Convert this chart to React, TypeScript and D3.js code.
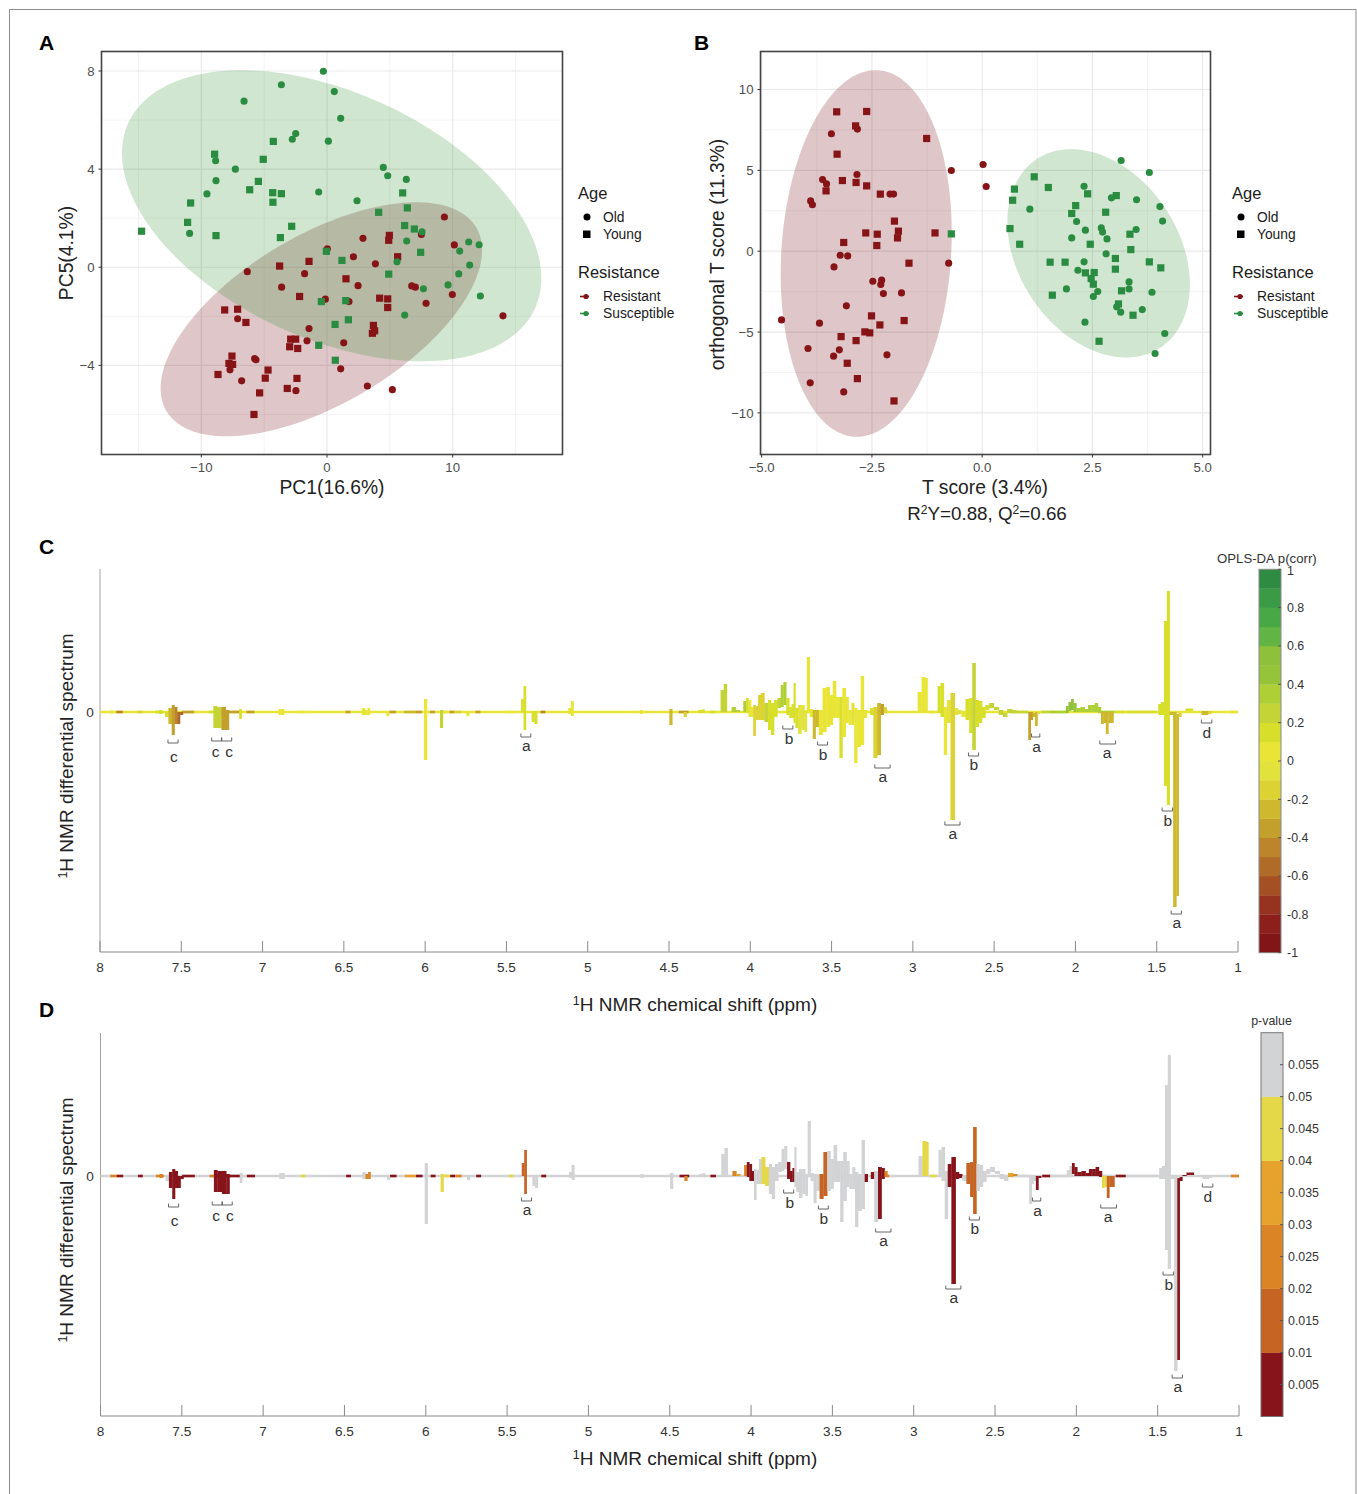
import React from "react";
import * as d3 from "d3";

type Pt = [number, number];
// ---------- Panel A (PC1 / PC5 scores) ----------
const pcaSusceptibleOld: Pt[] = [[-0.29,7.99],[-3.63,7.44],[0.58,7.16],[-6.6,6.77],[1.09,6.07],[-2.49,5.45],[-2.76,5.22],[0.11,5.14],[-8.86,4.34],[-7.29,4.0],[4.48,4.07],[4.83,3.73],[6.31,3.58],[-8.83,3.53],[-9.55,2.99],[-0.66,3.07],[2.39,2.71],[-10.93,1.38],[7.56,1.44],[6.34,1.07],[11.27,1.03],[12.1,0.92],[10.56,0.66],[5.57,0.22],[11.35,0.09],[10.48,-0.27],[9.63,-0.72],[7.67,-0.88],[12.2,-1.17],[6.18,-1.95]];
const pcaSusceptibleYoung: Pt[] = [[-4.27,5.13],[-8.94,4.61],[-5.07,4.4],[-5.46,3.5],[-6.15,3.16],[-4.32,3.04],[-3.63,3.0],[-4.3,2.65],[-10.85,2.62],[6.02,3.03],[6.39,2.42],[4.11,2.24],[-11.09,1.83],[-14.75,1.47],[-8.83,1.29],[-2.81,1.67],[-3.71,1.21],[6.18,1.7],[6.95,1.56],[7.45,0.61],[-0.05,0.65],[1.19,0.28],[4.91,-0.28],[-0.45,-1.4],[1.49,-1.36],[1.7,-2.14],[0.64,-2.33],[-0.66,-3.18],[0.66,-3.79]];
const pcaResistantOld: Pt[] = [[9.34,2.05],[7.51,1.34],[2.86,1.18],[10.13,0.91],[0.03,0.75],[2.1,0.43],[3.85,0.14],[-6.34,-0.18],[-1.78,-0.26],[-3.61,-0.81],[2.47,-0.75],[6.74,-0.76],[7.03,-0.81],[9.97,-1.11],[-0.13,-1.3],[1.75,-1.4],[7.88,-1.47],[14.0,-1.98],[-7.11,-2.1],[-1.43,-2.5],[-1.59,-3.0],[1.33,-3.08],[-5.76,-3.72],[-5.65,-3.77],[-7.72,-4.18],[1.09,-4.14],[-6.79,-4.63],[3.21,-4.84],[5.2,-4.99],[-2.47,-5.03]];
const pcaResistantYoung: Pt[] = [[4.96,1.3],[4.91,1.1],[5.62,0.43],[-1.43,0.24],[-3.77,0.05],[1.51,-0.47],[-2.18,-1.19],[4.19,-1.26],[4.83,-1.29],[4.83,-1.64],[-8.14,-1.74],[-7.11,-1.71],[-6.45,-2.25],[3.69,-2.37],[3.79,-2.59],[3.61,-2.69],[-2.89,-2.93],[-2.49,-2.93],[-2.97,-3.24],[-2.33,-3.31],[-7.56,-3.62],[-7.8,-3.92],[-7.51,-3.96],[-4.69,-4.19],[-8.67,-4.37],[-4.91,-4.52],[-2.39,-4.53],[-3.16,-4.94],[-5.36,-5.12],[-5.81,-6.0]];
// centre x, centre y, half-width, half-height, correlation
const pcaEllipseResistant = [-0.45,-2.12,12.79,4.77,0.59];
const pcaEllipseSusceptible = [0.37,2.10,16.68,5.93,-0.43];

// ---------- Panel B (OPLS-DA scores) ----------
const oplsResistantOld: Pt[] = [[0.02,5.36],[0.09,4.0],[-0.7,4.99],[-0.76,-0.74],[-3.42,7.26],[-2.83,7.55],[-2.84,4.74],[-3.62,4.43],[-3.53,4.16],[-3.89,3.11],[-3.85,2.87],[-2.09,3.53],[-2.01,3.53],[-3.22,-0.25],[-3.05,-0.29],[-3.36,-0.97],[-2.48,-1.86],[-2.28,-1.79],[-2.3,-2.06],[-2.24,-2.62],[-1.83,-2.58],[-3.08,-3.38],[-4.55,-4.25],[-3.69,-4.45],[-3.95,-6.02],[-3.24,-6.1],[-3.37,-6.49],[-2.16,-6.41],[-3.9,-8.14],[-3.14,-8.7]];
const oplsResistantYoung: Pt[] = [[-3.3,8.62],[-2.62,8.64],[-2.87,7.75],[-1.26,6.97],[-3.29,6.0],[-3.17,4.37],[-2.86,4.25],[-2.62,4.04],[-3.54,3.73],[-2.31,3.53],[-1.99,1.86],[-2.64,1.13],[-2.38,1.05],[-1.9,1.24],[-1.92,0.82],[-1.07,1.13],[-3.14,0.54],[-2.39,0.35],[-1.66,-0.74],[-2.51,-4.0],[-2.32,-4.56],[-1.77,-4.29],[-2.66,-4.99],[-2.55,-5.05],[-3.2,-5.28],[-2.86,-5.53],[-3.06,-6.93],[-2.83,-7.88],[-2.0,-9.26]];
const oplsSusceptibleYoung: Pt[] = [[-0.7,1.07],[1.18,4.6],[0.73,3.84],[1.5,3.94],[0.69,3.15],[2.39,3.55],[3.04,3.44],[2.12,2.82],[2.03,2.33],[2.8,2.41],[0.63,1.4],[0.85,0.43],[3.35,1.05],[2.45,0.43],[3.37,0.1],[1.54,-0.68],[1.88,-0.68],[3.02,-0.45],[3.02,-1.11],[3.79,-0.66],[4.05,-1.03],[2.34,-1.34],[2.54,-1.32],[2.47,-1.69],[2.52,-2.04],[3.16,-2.45],[1.59,-2.72],[3.09,-3.26],[3.42,-3.96],[2.65,-5.57]];
const oplsSusceptibleOld: Pt[] = [[3.15,5.61],[3.79,4.87],[2.31,4.02],[2.93,3.3],[3.5,3.18],[1.08,2.6],[4.03,2.76],[2.14,1.84],[4.09,1.86],[2.7,1.44],[2.73,1.18],[2.34,1.3],[3.49,1.34],[2.03,0.82],[2.83,0.76],[2.81,-0.16],[2.31,-0.66],[2.17,-1.18],[3.33,-1.9],[3.33,-2.33],[1.91,-2.33],[2.62,-2.49],[2.52,-2.8],[3.85,-2.54],[3.05,-3.44],[3.14,-3.77],[3.63,-3.61],[2.33,-4.39],[4.14,-5.09],[3.92,-6.33]];
const oplsEllipseResistant = [-2.63,-0.14,1.94,11.34,0.11];
const oplsEllipseSusceptible = [2.64,-0.13,2.07,6.44,-0.30];

// ---------- Panels C / D (spectrum): ppm, top, bottom, p(corr), p-value ----------
type Peak = [number, number, number, number, number];
const peaksAromatic: Peak[] = [
[7.627,2,-2,.1,.025],[7.59,0,-5,.1,.055],[7.567,4,-12,-.25,.005],[7.549,7,-23,-.35,.005],[7.533,5,-12,-.45,.005],[7.516,0,-12,-.55,.005],[7.498,0,-3,-.55,.005],
[7.293,6,-16,.25,.005],[7.268,5,-16,.25,.005],[7.237,5,-18,-.35,.005],[7.215,2,-18,-.4,.005],[7.149,1,0,-.4,.005],[7.137,3,-7,.1,.055],
[6.89,3,-3,.05,.055],[6.877,3,-3,.05,.055],[6.38,4,-3,.05,.055],[6.36,2,-3,.05,.025],[6.348,4,-3,.05,.025],[6.229,0,-4,.05,.055],
[5.997,13,-48,.05,.055],[5.899,2,-16,.2,.045],[5.737,1,-4,.05,.055],[5.40,13,0,.1,.015],[5.388,26,-18,.1,.015],[5.335,1,-10,.15,.055],[5.319,1,-12,.15,.055],
[5.11,4,-2,.05,.055],[5.095,11,-4,.05,.055],[4.67,2,-2,.05,.055],[4.488,3,-13,-.25,.055],[4.40,0,-5,-.15,.025],[4.31,2,-1,.1,.055]];
const peaksSugar: Peak[] = [
[4.29,2.7,-.7,.1,.055],[4.173,22,0,.25,.055],[4.152,28,0,.25,.055],[4.105,5,0,.3,.025],[4.074,2,0,.3,.035],[4.033,11,0,.3,.025],[4.017,14,-1,.15,.005],[4.003,12,-5,.05,.005],[3.986,5,-5,.05,.005],
[3.976,7,-24,-.15,.055],[3.957,6,-8,-.15,.055],[3.945,17,-8,-.15,.055],[3.925,19,-8,-.15,.045],[3.9,9,-10,.2,.045],[3.88,12,-18,.15,.055],[3.863,9,-23,.15,.055],[3.843,12,-5,.15,.055],[3.822,14,4,.2,.055],[3.802,27,5,.3,.055],[3.789,30,7,.3,.055],
[3.767,14,-3,.15,.005],[3.752,5,-6,.1,.005],[3.738,8,-6,.1,.005],[3.728,29,-11,.1,.055],[3.715,4,-16,.1,.055],[3.695,7,-22,-.1,.055],[3.674,7,-18,-.1,.055],[3.658,2,-20,-.1,.055],[3.644,55,0,.05,.055],[3.623,3,-5,.05,.055],[3.607,2,-27,-.25,.055],[3.588,2,-15,-.25,.055],[3.568,2,-23,.05,.015],[3.541,24,-20,.05,.015],
[3.521,25,-15,.05,.055],[3.5,17,-13,.05,.055],[3.484,31,-6,.05,.055],[3.459,15,-6,.05,.055],[3.443,15,-46,.1,.055],[3.422,24,-25,.05,.055],[3.402,15,-11,.05,.055],[3.387,2,-13,.05,.055],[3.367,9,-13,-.1,.055],[3.353,4,-51,.05,.055],[3.33,2,-35,.05,.055],[3.31,36,-33,.05,.055],[3.291,2,-6,.05,.005],[3.254,4,-3,.1,.005],[3.23,5,-46,-.15,.055],[3.207,9,-43,-.25,.005],[3.187,8,-3,-.35,.005],[3.17,5,-1,-.15,.025]];
const peaksAliphatic: Peak[] = [
[2.961,20,0,.05,.055],[2.93,35,0,.05,.045],[2.918,34,0,.05,.045],[2.838,26,-1,.1,.055],[2.82,29,-5,.1,.055],[2.797,5,-43,.05,.055],[2.783,12,-11,-.1,.005],[2.752,19,-108,-.2,.005],[2.731,4,-3,-.1,.005],[2.711,2,-2,-.1,.005],[2.691,0,-5,.05,.055],
[2.66,13,-8,.15,.015],[2.645,14,-21,.15,.015],[2.623,49,-38,.2,.015],[2.604,12,-15,.1,.055],[2.584,11,-11,.1,.055],[2.563,5,-6,.15,.055],[2.543,7,2,.15,.055],[2.516,9,4,.25,.055],[2.486,5,2,.25,.055],[2.455,2,-3,.2,.055],[2.434,-1,-5,.2,.055],[2.404,3,-1,.2,.035],[2.373,2,0,.2,.025],
[2.28,0,-28,-.35,.055],[2.268,0,-8,-.35,.055],[2.256,-1,-5,-.3,.055],[2.24,0,-14,-.3,.005],[2.225,0,-2,-.1,.005],[2.049,6,-1,.45,.055],[2.035,10,1,.45,.055],[2.018,13,2,.5,.005],[2.004,9,0,.45,.005],[1.983,4,0,.35,.005],[1.953,5,0,.35,.005],[1.932,3,0,.35,.005],[1.912,7,0,.35,.005],[1.891,7,0,.3,.005],[1.871,9,0,.3,.005],[1.85,5,-1,.3,.005],
[1.834,0,-12,-.25,.045],[1.819,0,-11,-.25,.045],[1.805,0,-22,-.25,.015],[1.788,0,-11,-.25,.015],[1.774,0,-11,-.25,.015],[1.481,8,-3,.1,.055],[1.465,10,-3,.1,.055],[1.444,91,-74,.15,.055],[1.43,121,-93,.15,.055],[1.409,0,-3,-.3,.055],[1.387,0,-195,-.25,.055],[1.37,-2,-184,-.25,.005],[1.358,-1,-5,-.2,.005],[1.337,1,0,.05,.005],[1.307,3.5,1,.15,.005],[1.286,3.5,1,.15,.005],[1.215,1,-3,-.3,.055],[1.194,1,-3,-.3,.055],[1.174,1,-2,-.15,.055]];
// from ppm, to ppm, p(corr), p-value
const baselineSections: [number,number,number,number][] = [[8,1,.05,.055],
[7.94,7.9,.05,.025],[7.9,7.86,-.5,.005],[7.77,7.74,-.2,.005],[7.66,7.61,.1,.025],[7.498,7.42,-.4,.005],[7.33,7.29,.1,.025],[7.29,7.13,-.4,.005],[7.1,7.05,-.4,.005],[6.77,6.74,.05,.045],[6.49,6.46,-.4,.005],[6.22,6.18,-.4,.005],[6.13,6.06,-.3,.035],[6.06,6.02,-.4,.005],[5.97,5.94,-.4,.005],[5.89,5.85,.05,.045],[5.85,5.82,-.4,.005],[5.82,5.78,-.2,.025],[5.69,5.66,-.4,.005],[5.49,5.46,.05,.045],[5.29,5.26,-.5,.005],[4.44,4.38,-.4,.005],[4.25,4.216,.15,.005],[3.17,3.15,-.1,.025],[2.9,2.86,.05,.045],[2.4,2.29,.25,.055],[2.21,2.16,.2,.005],[2.16,2.05,.3,.055],[1.85,1.76,.3,.055],[1.758,1.696,.15,.005],[1.69,1.5,.15,.055],[1.05,1.0,.05,.025]];
// from, to, level, letter, letter ppm, letter level
const assignments: [number,number,number,string,number,number][] = [
[7.582,7.52,-31,"c",7.545,-44.7],[7.313,7.252,-29,"c",7.289,-40],[7.252,7.19,-29,"c",7.205,-40],[5.411,5.35,-25,"a",5.377,-33.7],[3.8,3.738,-17,"b",3.762,-27],[3.586,3.525,-33,"b",3.553,-43],[3.234,3.14,-56,"a",3.185,-65],[2.803,2.71,-113,"a",2.754,-122],[2.658,2.596,-44,"b",2.625,-53],[2.27,2.219,-25,"a",2.239,-35],[1.85,1.753,-32,"a",1.805,-41],[1.467,1.403,-99,"b",1.432,-109],[1.411,1.348,-202,"a",1.376,-211],[1.225,1.161,-11,"d",1.192,-21]];
const ppmTicks = [8,7.5,7,6.5,6,5.5,5,4.5,4,3.5,3,2.5,2,1.5,1];
const corrColours = ["#821518","#8C1E1C","#963320","#A54F24","#B06B28","#BC852B","#C39F2B","#CDB82E","#DCD233","#E2E23C","#E8E536","#D8DF2A","#C4D336","#AFCF36","#95C43A","#8FC03C","#62B544","#48A846","#3A9A45","#2E8B41"];
const corrTicks = [1,.8,.6,.4,.2,0,-.2,-.4,-.6,-.8,-1];
const pColours = ["#87141A","#C66424","#DB8425","#E5A22C","#E5D848","#D2D3D4"];
const pThresholds = [.01,.02,.03,.04,.05];
const pBandEdges = [0,.01,.02,.03,.04,.05,.06];
const pTicks = [.005,.01,.015,.02,.025,.03,.035,.04,.045,.05,.055];

const RED = "#861417", GREEN = "#2A8C40";
const FONT = "'Liberation Sans', Arial, sans-serif";
const corrScale = d3.scaleQuantize<string>().domain([-1,1]).range(corrColours);
const pScale = d3.scaleThreshold<number,string>().domain(pThresholds).range(pColours);
const circlePath = d3.symbol().type(d3.symbolCircle).size(40)()!;
const squarePath = d3.symbol().type(d3.symbolSquare).size(52)()!;
const peaks = [...peaksAromatic, ...peaksSugar, ...peaksAliphatic];

function ellipsePath(e: number[], x: any, y: any) {
  const [cx, cy, rx, ry, rho] = e;
  const d = Math.acos(rho);
  return d3.line<number>()
    .x(t => x(cx + rx * Math.cos(t)))
    .y(t => y(cy + ry * Math.cos(t - d)))
    .curve(d3.curveLinearClosed)(d3.range(0, Math.PI * 2, 0.04))!;
}

function Score(props: any) {
  const { x, y, xMajor, xMinor, yMajor, yMinor, frame, xFmt, yFmt, ell, sets } = props;
  const [l, t, r, b] = frame;
  return <g fontFamily={FONT}>
    {xMinor.map((v: number) => <line key={"a"+v} x1={x(v)} x2={x(v)} y1={t} y2={b} stroke="#f0f0f0" strokeWidth={.8}/>)}
    {yMinor.map((v: number) => <line key={"b"+v} y1={y(v)} y2={y(v)} x1={l} x2={r} stroke="#f0f0f0" strokeWidth={.8}/>)}
    {xMajor.map((v: number) => <line key={"c"+v} x1={x(v)} x2={x(v)} y1={t} y2={b} stroke="#e9e9e9" strokeWidth={1.2}/>)}
    {yMajor.map((v: number) => <line key={"d"+v} y1={y(v)} y2={y(v)} x1={l} x2={r} stroke="#e9e9e9" strokeWidth={1.2}/>)}
    <path d={ellipsePath(ell[0], x, y)} fill="rgb(110,0,10)" fillOpacity={.22}/>
    <path d={ellipsePath(ell[1], x, y)} fill="rgb(34,139,34)" fillOpacity={.21}/>
    {sets.map((s: any, i: number) => s.pts.map((p: Pt, j: number) =>
      <path key={i+"-"+j} d={s.shape} transform={`translate(${x(p[0])},${y(p[1])})`} fill={s.col}/>))}
    <rect x={l} y={t} width={r-l} height={b-t} fill="none" stroke="#444" strokeWidth={1.6}/>
    {xMajor.map((v: number) => <g key={"e"+v}>
      <line x1={x(v)} x2={x(v)} y1={b} y2={b+3} stroke="#333"/>
      <text x={x(v)} y={b+17.5} textAnchor="middle" fontSize={13.2} fill="#4d4d4d">{xFmt(v)}</text></g>)}
    {yMajor.map((v: number) => <g key={"f"+v}>
      <line x1={l-3} x2={l} y1={y(v)} y2={y(v)} stroke="#333"/>
      <text x={l-7} y={y(v)+4.7} textAnchor="end" fontSize={13.2} fill="#4d4d4d">{yFmt(v)}</text></g>)}
  </g>;
}

function Legend({ dx }: { dx: number }) {
  return <g fontFamily={FONT} transform={`translate(${dx},0)`} fill="#1a1a1a">
    <text x={578} y={199} fontSize={16.5}>Age</text>
    <circle cx={587} cy={217} r={3.5} fill="#000"/>
    <rect x={583} y={230.5} width={7.5} height={7.5} fill="#000"/>
    <text x={603} y={222} fontSize={13.8}>Old</text>
    <text x={603} y={239} fontSize={13.8}>Young</text>
    <text x={578} y={278} fontSize={16.5}>Resistance</text>
    <line x1={580} x2={589} y1={296.5} y2={296.5} stroke={RED} strokeWidth={1.6}/>
    <circle cx={586} cy={296.5} r={2.6} fill={RED}/>
    <text x={603} y={301} fontSize={13.8}>Resistant</text>
    <line x1={580} x2={589} y1={313.5} y2={313.5} stroke={GREEN} strokeWidth={1.6}/>
    <circle cx={586} cy={313.5} r={2.6} fill={GREEN}/>
    <text x={603} y={318} fontSize={13.8}>Susceptible</text>
  </g>;
}

function Spectrum({ x, y, colour, label }: any) {
  const axisY = y.range()[0], topY = y.range()[1], left = x.range()[0];
  const halfWidth = (gap: number) => (gap < 6 ? gap / 2 + 0.15 : 1.6);
  return <g fontFamily={FONT}>
    <line x1={left} x2={left} y1={topY} y2={axisY} stroke="#a3a3a3" strokeWidth={1}/>
    <line x1={left} x2={x.range()[1]} y1={axisY} y2={axisY} stroke="#8a8a8a" strokeWidth={1}/>
    <text x={90} y={y(0)+5} textAnchor="middle" fontSize={13.6} fill="#333">0</text>
    {ppmTicks.map(t => <g key={t}>
      <line x1={x(t)} x2={x(t)} y1={axisY-11} y2={axisY} stroke="#8a8a8a"/>
      <text x={x(t)} y={axisY+20} textAnchor="middle" fontSize={13.6} fill="#333">{t}</text></g>)}
    {baselineSections.map((s, i) => <line key={i} x1={x(s[0])} x2={x(s[1])} y1={y(0)} y2={y(0)} stroke={colour(s[2], s[3])} strokeWidth={2.6}/>)}
    {peaks.map((p, i) => {
      const px = x(p[0]);
      const hl = halfWidth(i > 0 ? px - x(peaks[i-1][0]) : 99);
      const hr = halfWidth(i < peaks.length - 1 ? x(peaks[i+1][0]) - px : 99);
      return <rect key={i} x={px-hl} width={hl+hr} y={y(p[1])} height={y(p[2])-y(p[1])} fill={colour(p[3], p[4])}/>;
    })}
    {assignments.map((a, i) => <g key={i}>
      <path d={`M${x(a[0])},${y(a[2])-3.5}V${y(a[2])}H${x(a[1])}V${y(a[2])-3.5}`} fill="none" stroke="#555" strokeWidth={.9}/>
      <text x={x(a[4])} y={y(a[5])+5} textAnchor="middle" fontSize={15.5} fill="#333">{a[3]}</text></g>)}
    <text transform={`translate(73,${axisY-196}) rotate(-90)`} textAnchor="middle" fontSize={19} fill="#222"><tspan fontSize={12.5} dy={-6.5}>1</tspan><tspan dy={6.5}>H NMR differential spectrum</tspan></text>
    <text x={695} y={label} textAnchor="middle" fontSize={19} fill="#222"><tspan fontSize={12.5} dy={-6.5}>1</tspan><tspan dy={6.5}>H NMR chemical shift (ppm)</tspan></text>
  </g>;
}

export default function App() {
  const ax = d3.scaleLinear().domain([-10,10]).range([201.3,452.7]);
  const ay = d3.scaleLinear().domain([-4,8]).range([365.4,71]);
  const bx = d3.scaleLinear().domain([-5,5]).range([761.7,1202.7]);
  const by = d3.scaleLinear().domain([-10,10]).range([412.9,89.5]);
  const cx = d3.scaleLinear().domain([8,1]).range([100,1238]);
  const cy = d3.scaleLinear().domain([-240,143]).range([952,569]);
  const dx = d3.scaleLinear().domain([8,1]).range([100.5,1239]);
  const dy = d3.scaleLinear().domain([-240,143]).range([1416,1033]);
  const corrBar = d3.scaleLinear().domain([-1,1]).range([952.7,569.3]);
  const pBar = d3.scaleLinear().domain([0,.06]).range([1416.5,1032.7]);
  const minus = (v: number, d = 0) => (v < 0 ? "\u2212" : "") + Math.abs(v).toFixed(d);
  return (
    <svg width={1357} height={1494} viewBox="0 0 1357 1494" style={{ position: "absolute", left: 0, top: 0, display: "block" }}>
      <rect width={1357} height={1494} fill="#fff"/>
      <path d="M9.5,1494V9.5H1356V1494" fill="none" stroke="#8c8c8c" strokeWidth={1}/>
      <g fontFamily={FONT} fontWeight={700} fontSize={21} fill="#000">
        <text x={39} y={50}>A</text><text x={694} y={50}>B</text><text x={39} y={554}>C</text><text x={39} y={1017}>D</text>
      </g>
      <Score x={ax} y={ay} frame={[101.5,51.5,562.5,454.5]} xMajor={[-10,0,10]} xMinor={[-15,-5,5,15]} yMajor={[-4,0,4,8]} yMinor={[-6,-2,2,6]}
        xFmt={(v: number) => minus(v)} yFmt={(v: number) => minus(v)} ell={[pcaEllipseResistant, pcaEllipseSusceptible]}
        sets={[{pts:pcaResistantOld,shape:circlePath,col:RED},{pts:pcaResistantYoung,shape:squarePath,col:RED},{pts:pcaSusceptibleOld,shape:circlePath,col:GREEN},{pts:pcaSusceptibleYoung,shape:squarePath,col:GREEN}]}/>
      <Score x={bx} y={by} frame={[760.5,51.5,1210.5,454.5]} xMajor={[-5,-2.5,0,2.5,5]} xMinor={[-3.75,-1.25,1.25,3.75]} yMajor={[-10,-5,0,5,10]} yMinor={[-7.5,-2.5,2.5,7.5]}
        xFmt={(v: number) => minus(v,1)} yFmt={(v: number) => minus(v)} ell={[oplsEllipseResistant, oplsEllipseSusceptible]}
        sets={[{pts:oplsResistantOld,shape:circlePath,col:RED},{pts:oplsResistantYoung,shape:squarePath,col:RED},{pts:oplsSusceptibleOld,shape:circlePath,col:GREEN},{pts:oplsSusceptibleYoung,shape:squarePath,col:GREEN}]}/>
      <g fontFamily={FONT} fill="#222">
        <text x={332} y={494} textAnchor="middle" fontSize={19.3}>PC1(16.6%)</text>
        <text transform="translate(73,253) rotate(-90)" textAnchor="middle" fontSize={19.3}>PC5(4.1%)</text>
        <text x={985} y={494} textAnchor="middle" fontSize={19.3}>T score (3.4%)</text>
        <text transform="translate(724,254.5) rotate(-90)" textAnchor="middle" fontSize={19.3}>orthogonal T score (11.3%)</text>
        <text x={987} y={520} textAnchor="middle" fontSize={18.8}>R<tspan fontSize={12} dy={-6}>2</tspan><tspan dy={6}>Y=0.88, Q</tspan><tspan fontSize={12} dy={-6}>2</tspan><tspan dy={6}>=0.66</tspan></text>
      </g>
      <Legend dx={0}/><Legend dx={654}/>
      <Spectrum x={cx} y={cy} colour={(c: number) => corrScale(c)} label={1011}/>
      <Spectrum x={dx} y={dy} colour={(_: number, p: number) => pScale(p)} label={1465}/>
      <g fontFamily={FONT} fontSize={12.4} fill="#333">
        <text x={1217} y={563} fontSize={13.2}>OPLS-DA p(corr)</text>
        {corrColours.map((c, i) => { const lo = -1 + i * .1; return <rect key={i} x={1259} y={corrBar(lo+.1)} width={22} height={corrBar(lo)-corrBar(lo+.1)+.3} fill={c}/>; })}
        <rect x={1259} y={569.3} width={22} height={383.4} fill="none" stroke="#8a8a8a"/>
        {corrTicks.map(t => <g key={t}><line x1={1278} x2={1281} y1={corrBar(t)} y2={corrBar(t)} stroke="#555"/>
          <text x={1287} y={corrBar(t)+4.4+(t===1?1:0)}>{String(+t.toFixed(1))}</text></g>)}
        <text x={1271.5} y={1025} textAnchor="middle">p-value</text>
        {pColours.map((c, i) => <rect key={i} x={1261} y={pBar(pBandEdges[i+1])} width={22} height={pBar(pBandEdges[i])-pBar(pBandEdges[i+1])+.3} fill={c}/>)}
        <rect x={1261} y={1032.7} width={22} height={383.8} fill="none" stroke="#777"/>
        {pTicks.map(t => <g key={t}><line x1={1280} x2={1283} y1={pBar(t)} y2={pBar(t)} stroke="#555"/>
          <text x={1288} y={pBar(t)+4.4}>{t}</text></g>)}
      </g>
    </svg>
  );
}
